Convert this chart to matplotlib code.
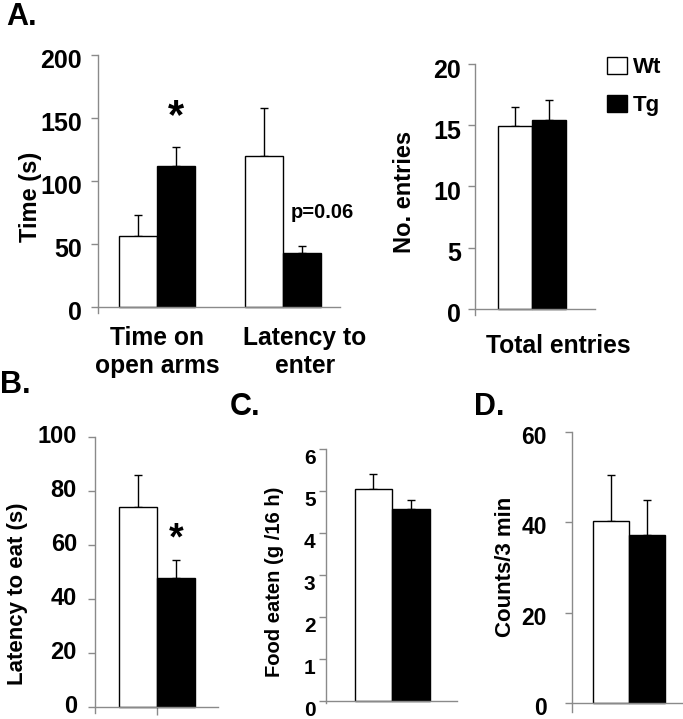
import matplotlib
matplotlib.use("Agg")
import matplotlib.pyplot as plt
from matplotlib.patches import Patch
from matplotlib.transforms import ScaledTranslation

plt.rcParams["font.family"] = ["Liberation Sans", "DejaVu Sans"]
plt.rcParams["font.weight"] = "bold"

# data
maze_cats = ["Time on\nopen arms", "Latency to\nenter"]
maze_wt = [56, 120]
maze_wt_err = [17, 38]
maze_tg = [112, 43]
maze_tg_err = [15, 5]

entries_wt, entries_wt_err = 14.9, 1.6
entries_tg, entries_tg_err = 15.4, 1.7

eat_wt, eat_wt_err = 74, 12
eat_tg, eat_tg_err = 47.8, 6.6

food_wt, food_wt_err = 5.05, 0.35
food_tg, food_tg_err = 4.57, 0.22

counts_wt, counts_wt_err = 40.3, 10.2
counts_tg, counts_tg_err = 37.2, 7.7

W, H = 683, 719
fig = plt.figure(figsize=(W / 100, H / 100), dpi=100)
BW = 0.3
GRAY = "#8a8a8a"


def rect(l, t, r, b):
    return [l / W, 1 - b / H, (r - l) / W, (b - t) / H]


def setup(ax, xlim, ylim, yticks, fs, dy, pad):
    ax.set_xlim(*xlim)
    ax.set_ylim(*ylim)
    ax.set_yticks(yticks)
    ax.spines["top"].set_visible(False)
    ax.spines["right"].set_visible(False)
    ax.spines["bottom"].set_position(("data", 0))
    for s in ("left", "bottom"):
        ax.spines[s].set_color(GRAY)
        ax.spines[s].set_linewidth(1)
    ax.tick_params(axis="y", length=5, width=1, color=GRAY, pad=pad, labelsize=fs)
    ax.tick_params(axis="x", length=0, pad=14, labelsize=17.7)
    for lab in ax.get_yticklabels():
        lab.set_fontweight("bold")
        lab.set_transform(lab.get_transform() + ScaledTranslation(0, -dy / 100, fig.dpi_scale_trans))


def bars(ax, x, wt, wt_err, tg, tg_err):
    ax.bar([x - BW / 2], [wt], BW, color="white", edgecolor="black", linewidth=1, zorder=2)
    ax.bar([x + BW / 2], [tg], BW, color="black", edgecolor="black", linewidth=1, zorder=2)
    ax.errorbar([x - BW / 2, x + BW / 2], [wt, tg], yerr=[[0, 0], [wt_err, tg_err]],
                fmt="none", ecolor="black", elinewidth=1, capsize=3, capthick=1, zorder=1)


def ylabel(ax, text, fs, xr, yc):
    ax.set_ylabel(text, fontsize=fs, fontweight="bold")
    ax.yaxis.set_label_coords(xr / W, 1 - yc / H, transform=fig.transFigure)


# A left
ax1 = fig.add_axes(rect(98, 55, 340, 313))
for i in range(len(maze_cats)):
    bars(ax1, i, maze_wt[i], maze_wt_err[i], maze_tg[i], maze_tg_err[i])
setup(ax1, (-0.468, 1.452), (-4.8, 200), [0, 50, 100, 150, 200], 18, 4, 6.5)
ax1.set_xticks([0.0, 1.175])
ax1.set_xticklabels(maze_cats, fontweight="bold")
ylabel(ax1, "Time (s)", 17, 42, 197)
ax1.text(BW / 2, 151, "*", ha="center", va="center", fontsize=30, fontweight="bold")
ax1.text(1.31, 75, "p=0.06", ha="center", va="center", fontsize=14.5, fontweight="bold")

# A right
ax2 = fig.add_axes(rect(475, 64, 595, 315))
bars(ax2, 0, entries_wt, entries_wt_err, entries_tg, entries_tg_err)
setup(ax2, (-0.496, 0.548), (-0.49, 20), [0, 5, 10, 15, 20], 18, 4, 5)
ax2.set_xticks([0.226])
ax2.set_xticklabels(["Total entries"], fontweight="bold")
ax2.tick_params(axis="x", pad=18)
ylabel(ax2, "No. entries", 17, 416, 192)
ax2.legend(handles=[Patch(facecolor="white", edgecolor="black", linewidth=1, label="Wt"),
                    Patch(facecolor="black", edgecolor="black", label="Tg")],
           loc="upper left", bbox_to_anchor=(607 / W, 1 - 57 / H), bbox_transform=fig.transFigure,
           frameon=False, borderpad=0, borderaxespad=0, handlelength=0.9,
           handleheight=0.8, handletextpad=0.25, labelspacing=0.75, prop={"weight": "bold", "size": 16})

# B
ax3 = fig.add_axes(rect(95, 437, 218, 713))
bars(ax3, 0, eat_wt, eat_wt_err, eat_tg, eat_tg_err)
setup(ax3, (-0.484, 0.477), (-2.2, 100), [0, 20, 40, 60, 80, 100], 17, -3, 8)
ax3.set_xticks([0])
ax3.set_xticklabels([""])
ax3.tick_params(axis="x", length=6, width=1, color=GRAY, direction="out")
ylabel(ax3, "Latency to eat (s)", 16, 28, 594)
ax3.text(BW / 2, 62, "*", ha="center", va="center", fontsize=27, fontweight="bold")

# C
ax4 = fig.add_axes(rect(326, 449, 457, 703))
bars(ax4, 0, food_wt, food_wt_err, food_tg, food_tg_err)
setup(ax4, (-0.528, 0.52), (-0.05, 6), [0, 1, 2, 3, 4, 5, 6], 15, 8, 2.5)
ax4.set_xticks([])
ylabel(ax4, "Food eaten (g /16 h)", 14.5, 284, 582)

# D
ax5 = fig.add_axes(rect(572, 432, 683, 712))
bars(ax5, 0, counts_wt, counts_wt_err, counts_tg, counts_tg_err)
setup(ax5, (-0.475, 0.45), (-2, 60), [0, 20, 40, 60], 16.5, 3, 13)
ax5.set_xticks([])
ylabel(ax5, "Counts/3 min", 16, 516, 567)

# panel letters
for lab, x, y in [("A.", 6, 25), ("B.", 0, 393), ("C.", 230, 415), ("D.", 474, 415)]:
    fig.text(x / W, 1 - y / H, lab, fontsize=22, fontweight="bold", va="baseline")

fig.savefig("out.png", dpi=100)
